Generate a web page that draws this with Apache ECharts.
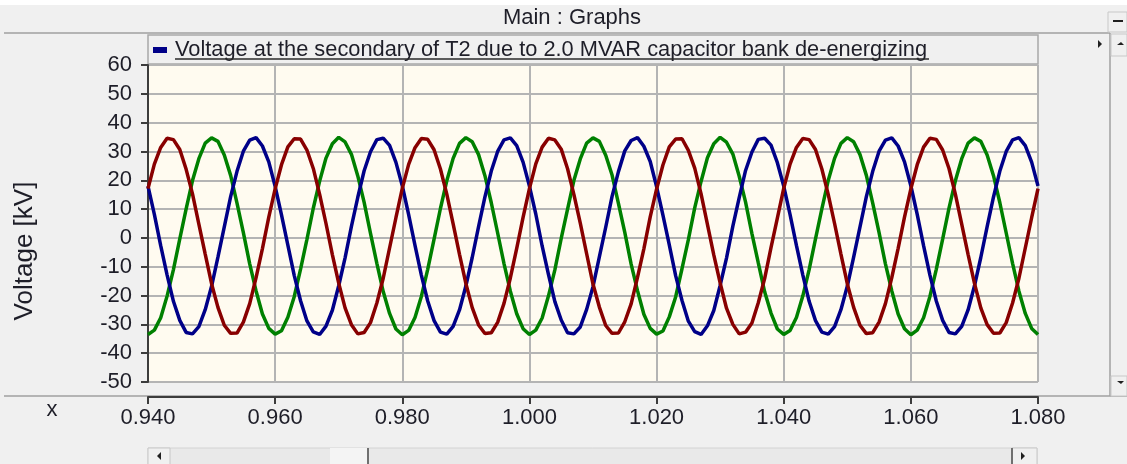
<!DOCTYPE html>
<html>
<head>
<meta charset="utf-8">
<script src="https://cdn.jsdelivr.net/npm/echarts@6/dist/echarts.min.js"></script>
<style>
  html, body { margin: 0; padding: 0; background: #f0f0f0; }
  #chart { width: 1127px; height: 464px; }
</style>
</head>
<body>
<div id="chart"></div>
<script>
// Three-phase voltage at the secondary of T2, sampled every 1 ms from 0.940 s
const tStart = 0.940;
const tStep = 0.001;

const phaseRed = [
  17.1, 25.6, 31.4, 34.6, 34.1, 30.7, 23.8, 15.3, 4.8, -5.6, -15.9, -24.1, -30.3, -33.1, -33.0, -29.2, -22.8, -13.8, -3.7, 7.2,
  17.0, 25.4, 31.6, 34.4, 34.3, 30.5, 24.1, 15.1, 5.0, -5.8, -15.7, -24.3, -30.1, -33.3, -32.8, -29.4, -22.6, -14.0, -3.5, 7.0,
  17.2, 25.5, 31.3, 34.5, 34.2, 30.6, 23.9, 15.2, 4.9, -5.7, -15.8, -24.2, -30.2, -33.2, -32.9, -29.3, -22.7, -13.9, -3.6, 7.1,
  17.1, 25.7, 31.5, 34.6, 34.0, 30.8, 24.0, 15.0, 5.1, -5.5, -16.0, -24.0, -30.4, -33.1, -33.0, -29.1, -22.9, -13.7, -3.8, 7.3,
  16.9, 25.3, 31.6, 34.3, 34.4, 30.4, 24.2, 15.3, 4.7, -5.9, -15.6, -24.4, -30.0, -33.3, -32.7, -29.5, -22.5, -14.1, -3.4, 6.9,
  17.2, 25.6, 31.4, 34.5, 34.1, 30.7, 23.9, 15.1, 5.0, -5.6, -15.9, -24.1, -30.3, -33.2, -32.9, -29.2, -22.8, -13.8, -3.6, 7.2,
  17.0, 25.4, 31.5, 34.6, 34.2, 30.5, 24.1, 15.2, 4.8, -5.7, -15.7, -24.3, -30.1, -33.1, -33.0, -29.4, -22.6, -14.0, -3.5, 7.0,
  17.1
];

const phaseGreen = [
  -33.5, -32.0, -27.7, -20.2, -11.0, -0.3, 10.1, 19.9, 27.5, 32.9, 34.7, 33.5, 28.8, 21.7, 12.1, 1.8, -9.0, -18.4, -26.4, -31.4,
  -33.4, -32.2, -27.5, -20.4, -10.8, -0.5, 10.3, 19.7, 27.7, 32.7, 34.9, 33.3, 29.0, 21.5, 12.3, 1.6, -8.8, -18.6, -26.2, -31.6,
  -33.6, -32.1, -27.6, -20.3, -10.9, -0.4, 10.2, 19.8, 27.6, 32.8, 34.8, 33.4, 28.9, 21.6, 12.2, 1.7, -8.9, -18.5, -26.3, -31.5,
  -33.5, -32.0, -27.8, -20.1, -11.1, -0.2, 10.0, 20.0, 27.4, 32.9, 34.7, 33.5, 28.7, 21.8, 12.0, 1.9, -9.1, -18.3, -26.5, -31.4,
  -33.4, -32.3, -27.4, -20.5, -10.7, -0.6, 10.4, 19.6, 27.8, 32.7, 34.9, 33.2, 29.1, 21.4, 12.4, 1.5, -8.7, -18.7, -26.1, -31.6,
  -33.5, -32.1, -27.6, -20.2, -11.0, -0.3, 10.1, 19.9, 27.6, 32.8, 34.8, 33.4, 28.9, 21.7, 12.1, 1.8, -9.0, -18.4, -26.4, -31.5,
  -33.6, -32.0, -27.7, -20.3, -10.9, -0.4, 10.3, 19.8, 27.5, 32.9, 34.7, 33.5, 28.8, 21.6, 12.2, 1.7, -8.8, -18.5, -26.2, -31.4,
  -33.5
];

const phaseBlue = [
  18.0, 8.2, -2.7, -12.8, -22.0, -28.6, -32.8, -33.3, -30.8, -24.9, -16.8, -6.7, 3.8, 14.3, 23.1, 30.1, 33.9, 34.8, 31.9, 26.4,
  17.9, 8.0, -2.5, -13.0, -21.8, -28.8, -32.6, -33.5, -30.6, -25.1, -16.6, -6.9, 4.0, 14.1, 23.3, 29.9, 34.1, 34.6, 32.1, 26.2,
  18.1, 8.1, -2.6, -12.9, -21.9, -28.7, -32.7, -33.4, -30.7, -25.0, -16.7, -6.8, 3.9, 14.2, 23.2, 30.0, 34.0, 34.7, 32.0, 26.3,
  18.0, 8.3, -2.8, -12.7, -22.1, -28.5, -32.9, -33.3, -30.9, -24.8, -16.9, -6.6, 3.7, 14.4, 23.0, 30.2, 33.8, 34.8, 31.8, 26.5,
  17.8, 7.9, -2.4, -13.1, -21.7, -28.9, -32.5, -33.5, -30.5, -25.2, -16.5, -7.0, 4.1, 14.0, 23.4, 29.8, 34.2, 34.6, 32.2, 26.1,
  18.0, 8.1, -2.6, -12.8, -22.0, -28.7, -32.7, -33.4, -30.8, -24.9, -16.8, -6.7, 3.8, 14.3, 23.1, 30.1, 33.9, 34.7, 31.9, 26.4,
  18.1, 8.2, -2.7, -12.9, -21.9, -28.6, -32.8, -33.3, -30.7, -25.0, -16.7, -6.8, 3.9, 14.2, 23.2, 30.0, 34.0, 34.8, 32.0, 26.3,
  18.0
];

const seriesName = 'Voltage at the secondary of T2 due to 2.0 MVAR capacitor bank de-energizing';
const panelTitle = 'Main : Graphs';
const yAxisTitle = 'Voltage [kV]';
const xAxisTitle = 'x';

const FONT = 'Liberation Sans, Arial, sans-serif';
const TEXT = '#1e1e28';

// pair each sample with its simulation time
function withTime(values) {
  return values.map((v, i) => [+(tStart + i * tStep).toFixed(3), v]);
}

const chart = echarts.init(document.getElementById('chart'), null, { renderer: 'canvas' });

const frameLine = '#a0a0a0';

chart.setOption({
  backgroundColor: '#f0f0f0',
  animation: false,
  textStyle: { fontFamily: FONT },
  grid: {
    left: 148, right: 89, top: 65, bottom: 82,
    show: true,
    backgroundColor: '#fffbf0',
    borderColor: '#b4b4b4',
    borderWidth: 1
  },
  legend: {
    data: [seriesName],
    left: 153, top: 39,
    padding: 0,
    icon: 'rect',
    itemWidth: 14, itemHeight: 6,
    selectedMode: false,
    textStyle: { fontSize: 21.8, color: TEXT, fontFamily: FONT, padding: [0, 0, 0, 3] }
  },
  xAxis: {
    type: 'value',
    min: 0.94, max: 1.08, interval: 0.02,
    offset: 15,
    axisLine: { show: true, onZero: false, lineStyle: { color: '#3c3c3c', width: 2 } },
    axisTick: { show: true, inside: false, length: 7, lineStyle: { color: '#3c3c3c', width: 2 } },
    axisLabel: {
      margin: 10, fontSize: 22, color: TEXT, fontFamily: FONT,
      formatter: v => v.toFixed(3)
    },
    splitLine: { show: true, lineStyle: { color: '#b4b4b4', width: 2 } }
  },
  yAxis: {
    type: 'value',
    min: -50, max: 60, interval: 10,
    axisLine: { show: true, onZero: false, lineStyle: { color: '#3c3c3c', width: 2 } },
    axisTick: { show: true, inside: false, length: 7, lineStyle: { color: '#3c3c3c', width: 2 } },
    axisLabel: { margin: 16, fontSize: 22, color: TEXT, fontFamily: FONT },
    splitLine: { show: true, lineStyle: { color: '#b4b4b4', width: 2 } }
  },
  series: [
    {
      name: 'phase-c', type: 'line', data: withTime(phaseGreen),
      showSymbol: false, color: '#008000',
      lineStyle: { width: 3.5, color: '#008000' }, z: 2, clip: true
    },
    {
      name: seriesName, type: 'line', data: withTime(phaseBlue),
      showSymbol: false, color: '#000088',
      lineStyle: { width: 3.5, color: '#000088' }, z: 3, clip: true
    },
    {
      name: 'phase-a', type: 'line', data: withTime(phaseRed),
      showSymbol: false, color: '#880000',
      lineStyle: { width: 3.5, color: '#880000' }, z: 4, clip: true
    }
  ],
  graphic: [
    // title strip
    { type: 'rect', shape: { x: 0, y: 0, width: 1127, height: 5 }, style: { fill: '#ffffff' }, z: -1 },
    { type: 'text', x: 572, y: 18, style: { text: panelTitle, font: '22px ' + FONT, fill: TEXT, align: 'center', verticalAlign: 'middle' } },
    { type: 'line', shape: { x1: 4, y1: 33, x2: 1110, y2: 33 }, style: { stroke: frameLine, lineWidth: 1.5 } },
    // legend frame
    { type: 'rect', shape: { x: 148, y: 35, width: 890, height: 29 }, style: { fill: '#f0f0f0', stroke: '#a8a8a8', lineWidth: 1.5 }, z: -1 },
    { type: 'line', shape: { x1: 175, y1: 59, x2: 929, y2: 59 }, style: { stroke: '#2a2a2a', lineWidth: 1.5 }, z: 5 },
    // y axis title
    { type: 'text', x: 25, y: 251, rotation: Math.PI / 2, style: { text: yAxisTitle, font: '26px ' + FONT, fill: TEXT, align: 'center', verticalAlign: 'middle' } },
    // x axis title
    { type: 'text', x: 52, y: 410, style: { text: xAxisTitle, font: '22px ' + FONT, fill: TEXT, align: 'center', verticalAlign: 'middle' } },
    // bottom separator
    { type: 'line', shape: { x1: 4, y1: 396, x2: 1127, y2: 396 }, style: { stroke: frameLine, lineWidth: 1.5 } },
    // right panel
    { type: 'line', shape: { x1: 1110, y1: 33, x2: 1110, y2: 396 }, style: { stroke: frameLine, lineWidth: 1.5 } },
    { type: 'rect', shape: { x: 1108, y: 12, width: 19, height: 20 }, style: { fill: '#f0f0f0', stroke: '#c8c8c8', lineWidth: 1 } },
    { type: 'line', shape: { x1: 1113, y1: 21, x2: 1123, y2: 21 }, style: { stroke: '#202020', lineWidth: 2 } },
    { type: 'polygon', shape: { points: [[1098, 40], [1098, 48], [1102, 44]] }, style: { fill: '#202020' } },
    { type: 'rect', shape: { x: 1111, y: 34, width: 16, height: 22 }, style: { fill: '#f0f0f0', stroke: '#c8c8c8', lineWidth: 1 } },
    { type: 'polygon', shape: { points: [[1117, 45], [1124, 45], [1121, 42]] }, style: { fill: '#202020' } },
    { type: 'rect', shape: { x: 1111, y: 376, width: 16, height: 20 }, style: { fill: '#f0f0f0', stroke: '#c8c8c8', lineWidth: 1 } },
    { type: 'polygon', shape: { points: [[1117, 381], [1124, 381], [1121, 384]] }, style: { fill: '#202020' } },
    // bottom scrollbar
    { type: 'rect', shape: { x: 148, y: 448, width: 889, height: 18 }, style: { fill: '#e9e9e9', stroke: '#d4d4d4', lineWidth: 1 } },
    { type: 'rect', shape: { x: 148, y: 448, width: 22, height: 18 }, style: { fill: '#f0f0f0', stroke: '#c8c8c8', lineWidth: 1 } },
    { type: 'polygon', shape: { points: [[161, 452], [161, 460], [157, 456]] }, style: { fill: '#202020' } },
    { type: 'rect', shape: { x: 330, y: 448, width: 38, height: 18 }, style: { fill: '#f4f4f4' } },
    { type: 'line', shape: { x1: 368, y1: 448, x2: 368, y2: 464 }, style: { stroke: '#707070', lineWidth: 2 } },
    { type: 'rect', shape: { x: 1012, y: 448, width: 25, height: 18 }, style: { fill: '#f0f0f0', stroke: '#c8c8c8', lineWidth: 1 } },
    { type: 'line', shape: { x1: 1012, y1: 448, x2: 1012, y2: 464 }, style: { stroke: '#707070', lineWidth: 2 } },
    { type: 'polygon', shape: { points: [[1021, 452], [1021, 460], [1025, 456]] }, style: { fill: '#202020' } }
  ]
});
</script>
</body>
</html>
